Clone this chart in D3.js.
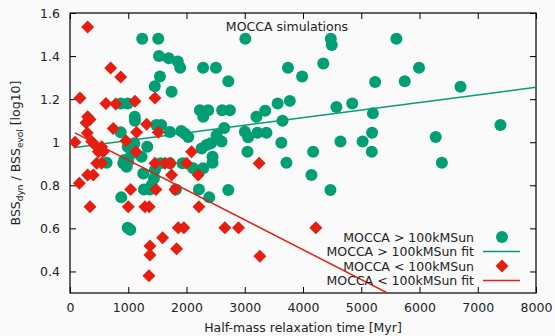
<!DOCTYPE html>
<html><head><meta charset="utf-8">
<script src="https://cdn.jsdelivr.net/npm/d3@7"></script>
<style>body{margin:0;background:#fafafa;}svg{display:block;font-family:"DejaVu Sans",sans-serif;}</style>
</head><body><svg id="c" width="555" height="336"></svg>
<script>
const xTicks=[0,1000,2000,3000,4000,5000,6000,7000,8000];
const yTicks=[0.4,0.6,0.8,1,1.2,1.4,1.6];
const highX=[1240,1515,1527,1695,1850,1892,1544,1455,1744,2285,2505,2718,3010,870,990,1112,1115,1480,1567,1715,1910,1967,2030,2230,2372,2287,2612,2744,2647,2516,2601,2259,2344,2418,3002,3059,3047,3219,3373,3201,3350,3565,3774,3648,3628,3716,4145,4471,4174,4643,5023,5186,5180,5200,4574,4845,4477,4494,5603,4348,3742,3985,5992,5238,5746,6704,6278,7390,6384,2447,2447,2115,2287,2213,2718,2390,870,990,1326,1058,1086,915,972,629,1258,1269,1372,1441,1401,1458,1555,1715,1818,880,990,1035,1932,1000,1103,1229,932];
const highY=[1.48,1.48,1.40,1.39,1.375,1.346,1.305,1.26,1.234,1.346,1.346,1.283,1.48,1.18,1.18,1.118,1.10,1.08,1.08,1.047,1.052,1.04,1.024,1.149,1.149,1.118,1.149,1.149,1.066,1.033,1.003,0.971,0.987,0.995,1.049,1.023,0.956,1.044,1.044,1.118,1.146,1.18,1.192,1.1,0.998,0.905,0.848,0.778,0.956,1.003,1.003,1.044,0.956,1.134,1.164,1.18,1.48,1.451,1.48,1.365,1.346,1.305,1.346,1.28,1.283,1.258,1.024,1.08,0.905,0.933,0.905,0.879,0.879,0.781,0.778,0.744,1.046,0.979,0.979,0.948,0.964,0.902,0.886,0.905,0.855,0.781,0.781,0.832,0.80,0.871,0.902,0.902,0.781,0.744,0.603,0.594,0.902,0.91,0.995,0.933,0.917];
const lowX=[303,698,870,172,617,784,1115,1458,303,343,275,297,743,1143,1315,1515,86,372,429,543,486,572,961,1132,458,543,1458,1630,1727,2001,2087,303,400,160,1041,1475,1801,1744,2201,343,1000,1286,1360,2213,1858,1955,1590,1372,1372,1355,1830,2659,2893,3259,3247,4220];
const lowY=[1.535,1.345,1.303,1.205,1.18,1.178,1.19,1.205,1.118,1.105,1.09,1.043,1.064,1.046,1.084,1.046,1.0,1.003,0.987,0.979,0.956,0.956,1.007,0.956,0.902,0.902,0.902,0.902,0.902,0.902,0.956,0.848,0.848,0.81,0.781,0.781,0.781,0.848,0.848,0.70,0.70,0.70,0.70,0.70,0.603,0.603,0.556,0.518,0.476,0.38,0.505,0.603,0.603,0.471,0.902,0.603];
const fitRange=[86,8000];
const highFit=[0.973,3.525e-5];
const lowFit=[1.055,-1.385e-4];
const legendLabels=["MOCCA > 100kMSun","MOCCA > 100kMSun fit","MOCCA < 100kMSun","MOCCA < 100kMSun fit"];
const GREEN="#009e73", RED="#e51e10";

const svg=d3.select("#c");
const L=70,R=536,T=13,B=293;
const x=d3.scaleLinear().domain([0,8000]).range([L,R]);
const y=d3.scaleLinear().domain([0.3,1.6]).range([B,T]);
svg.append("rect").attr("width",555).attr("height",336).attr("fill","#fafafa");
svg.append("defs").append("clipPath").attr("id","cp").append("rect").attr("x",L).attr("y",T).attr("width",R-L).attr("height",B-T);

const fs="12.5px";
// axes
const ax=svg.append("g").attr("transform",`translate(0,${B})`).call(d3.axisBottom(x).tickValues(xTicks).tickFormat(d3.format("d")).tickSizeInner(-6).tickSizeOuter(0).tickPadding(10));
const axT=svg.append("g").attr("transform",`translate(0,${T})`).call(d3.axisTop(x).tickValues(xTicks).tickFormat("").tickSizeInner(-6).tickSizeOuter(0));
const ay=svg.append("g").attr("transform",`translate(${L},0)`).call(d3.axisLeft(y).tickValues(yTicks).tickFormat(d=>d===1?"1":d3.format(".1f")(d)).tickSizeInner(-6).tickSizeOuter(0).tickPadding(10));
const ayR=svg.append("g").attr("transform",`translate(${R},0)`).call(d3.axisRight(y).tickValues(yTicks).tickFormat("").tickSizeInner(-6).tickSizeOuter(0));
[ax,axT,ay,ayR].forEach(g=>{g.select(".domain").remove();g.selectAll("line").attr("stroke","#000");g.selectAll("text").attr("font-size",fs).attr("fill","#222").attr("font-family","DejaVu Sans, sans-serif");});
svg.append("rect").attr("x",L).attr("y",T).attr("width",R-L).attr("height",B-T).attr("fill","none").attr("stroke","#000").attr("stroke-width",1.2);

const pg=svg.append("g").attr("clip-path","url(#cp)");
// green points
pg.selectAll("circle.h").data(highX.map((v,i)=>[v,highY[i]])).join("circle").attr("class","h")
 .attr("cx",d=>x(d[0])).attr("cy",d=>y(d[1])).attr("r",6).attr("fill",GREEN);
const line=d3.line().x(d=>x(d[0])).y(d=>y(d[1]));
const fitPts=(f)=>fitRange.map(v=>[v,f[0]+f[1]*v]);
pg.append("path").attr("d",line(fitPts(highFit))).attr("stroke",GREEN).attr("stroke-width",1.5).attr("fill","none");
const diamond=d3.symbol().type(d3.symbolDiamond2||d3.symbolSquare2).size(100);
pg.selectAll("path.l").data(lowX.map((v,i)=>[v,lowY[i]])).join("path").attr("class","l")
 .attr("d","M0,-6.5L6.5,0L0,6.5L-6.5,0Z").attr("transform",d=>`translate(${x(d[0])},${y(d[1])})`).attr("fill",RED);
pg.append("path").attr("d",line(fitPts(lowFit))).attr("stroke",RED).attr("stroke-width",1.5).attr("fill","none");

// title
svg.append("text").attr("x",287).attr("y",31).attr("text-anchor","middle").attr("font-size",fs).attr("fill","#222").text("MOCCA simulations");
// legend
const ly=[237,251.5,266,280.5];
legendLabels.forEach((t,i)=>{
  svg.append("text").attr("x",474).attr("y",ly[i]+4.5).attr("text-anchor","end").attr("font-size",fs).attr("fill","#222").text(t);
});
svg.append("circle").attr("cx",502).attr("cy",ly[0]).attr("r",6).attr("fill",GREEN);
svg.append("line").attr("x1",483).attr("x2",520).attr("y1",ly[1]).attr("y2",ly[1]).attr("stroke",GREEN).attr("stroke-width",1.5);
svg.append("path").attr("d","M0,-6.5L6.5,0L0,6.5L-6.5,0Z").attr("transform",`translate(502,${ly[2]})`).attr("fill",RED);
svg.append("line").attr("x1",483).attr("x2",520).attr("y1",ly[3]).attr("y2",ly[3]).attr("stroke",RED).attr("stroke-width",1.5);

// axis labels
svg.append("text").attr("x",303).attr("y",332).attr("text-anchor","middle").attr("font-size",fs).attr("fill","#222").text("Half-mass relaxation time [Myr]");
const yl=svg.append("text").attr("transform","translate(20,153) rotate(-90)").attr("text-anchor","middle").attr("font-size",fs).attr("fill","#222");
yl.append("tspan").text("BSS");
yl.append("tspan").attr("font-size","9px").attr("dy",3).text("dyn");
yl.append("tspan").attr("dy",-3).text(" / BSS");
yl.append("tspan").attr("font-size","9px").attr("dy",3).text("evol");
yl.append("tspan").attr("dy",-3).text(" [log10]");
</script></body></html>
